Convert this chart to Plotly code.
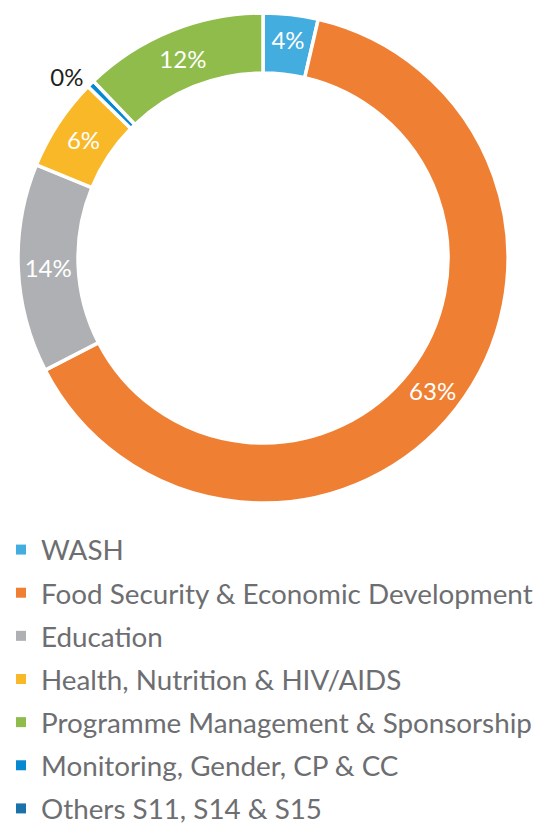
import plotly.graph_objects as go

# Slice order as drawn clockwise from 12 o'clock
slice_labels = ["WASH", "Food Security & Economic Development", "Education",
                "Health, Nutrition & HIV/AIDS", "Monitoring, Gender, CP & CC",
                "Others S11, S14 & S15", "Programme Management & Sponsorship"]
slice_values = [3.6, 63.5, 13.7, 6.1, 0.5, 0.0, 12.1]
slice_text = ["4%", "63%", "14%", "6%", "0%", "", "12%"]

# Legend order
legend_labels = ["WASH", "Food Security & Economic Development", "Education",
                 "Health, Nutrition & HIV/AIDS", "Programme Management & Sponsorship",
                 "Monitoring, Gender, CP & CC", "Others S11, S14 & S15"]

colors = {
    "WASH": "#42ADDE",
    "Food Security & Economic Development": "#EF7F32",
    "Education": "#AFB0B3",
    "Health, Nutrition & HIV/AIDS": "#F8B828",
    "Programme Management & Sponsorship": "#8FBC4B",
    "Monitoring, Gender, CP & CC": "#0689D0",
    "Others S11, S14 & S15": "#1B72AA",
}

fig = go.Figure()
fig.add_trace(go.Pie(
    labels=slice_labels, values=slice_values, text=slice_text,
    textinfo="text", sort=False, direction="clockwise", rotation=0,
    hole=0.755,
    marker=dict(colors=[colors[l] for l in slice_labels], line=dict(color="white", width=3.5)),
    textposition=["inside", "inside", "inside", "inside", "outside", "none", "inside"],
    insidetextorientation="horizontal",
    insidetextfont=dict(color="white", size=24, family="Lato"),
    outsidetextfont=dict(color="#231F20", size=24, family="Lato"),
    showlegend=False,
    domain=dict(x=[0, 510/546], y=[1 - 495/830, 1 - 5/830]),
))

for i, l in enumerate(legend_labels):
    fig.add_trace(go.Scatter(
        x=[None], y=[None], mode="markers", name=l,
        marker=dict(symbol="square", size=10, color=colors[l]),
        legendgroup=str(i),
    ))

fig.update_layout(
    width=546, height=830,
    margin=dict(l=0, r=0, t=0, b=0, autoexpand=False),
    paper_bgcolor="white", plot_bgcolor="white",
    xaxis=dict(visible=False), yaxis=dict(visible=False),
    legend=dict(x=-0.0128, y=1 - 517/830, xanchor="left", yanchor="top",
                font=dict(size=27.8, color="#6D6E71", family="Lato"),
                tracegroupgap=4, itemwidth=30, bgcolor="rgba(0,0,0,0)"),
)

fig.write_html("out.html")
